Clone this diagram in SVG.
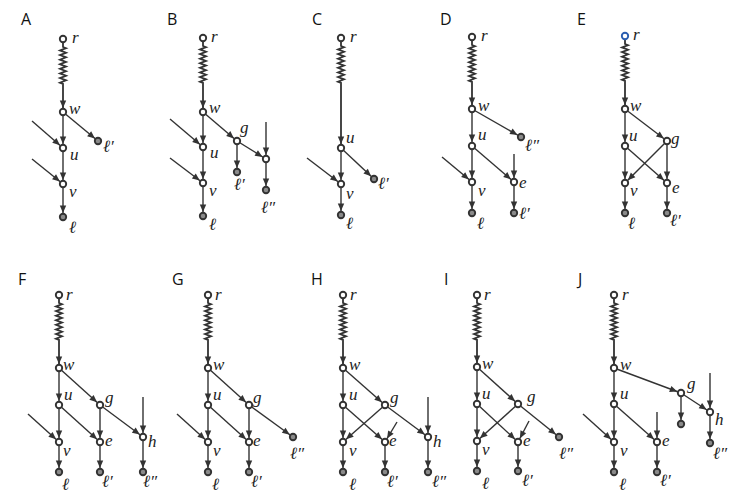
<svg xmlns="http://www.w3.org/2000/svg" width="747" height="504" viewBox="0 0 747 504">
<style>
.e{stroke:#333;stroke-width:1.4;fill:none;marker-end:url(#a)}
.z{stroke:#333;stroke-width:1.8;fill:none;marker-end:url(#a)}
.n circle{fill:#fff;stroke:#333;stroke-width:1.9}
.n.lf circle{fill:#8a8a8a}
.n.bl circle{stroke:#2a5db0}
.t{font-family:"Liberation Serif",serif;font-style:italic;font-size:17px;fill:#222}
.p{font-family:"Open Sans",sans-serif;font-size:16px;fill:#111}
</style>
<defs>
<marker id="a" markerUnits="userSpaceOnUse" viewBox="-12 -5 14 10" refX="0" refY="0" markerWidth="14" markerHeight="10" orient="auto" overflow="visible">
<path d="M-4,0 L-11.5,-3.2 L-11.5,3.2 Z" fill="#333"/>
</marker>
</defs>
<g id="panel-labels">
<text class="p" x="21" y="25">A</text>
<text class="p" x="167" y="25">B</text>
<text class="p" x="312" y="25">C</text>
<text class="p" x="440" y="25">D</text>
<text class="p" x="577" y="25">E</text>
<text class="p" x="18" y="285">F</text>
<text class="p" x="172" y="285">G</text>
<text class="p" x="311" y="285">H</text>
<text class="p" x="444" y="285">I</text>
<text class="p" x="578" y="285">J</text>
</g>
<g id="connectors">
<!-- A -->
<path class="z" d="M63,43 v4 l3,1.15 l-6,2.3 l6,2.3 l-6,2.3 l6,2.3 l-6,2.3 l6,2.3 l-6,2.3 l6,2.3 l-6,2.3 l6,2.3 l-6,2.3 l6,2.3 l-6,2.3 l6,2.3 l-6,2.3 l3,1.15 V112"/>
<line class="e" x1="63" y1="112" x2="63" y2="148"/>
<line class="e" x1="63" y1="148" x2="63" y2="184"/>
<line class="e" x1="63" y1="184" x2="63" y2="217"/>
<line class="e" x1="63" y1="112" x2="98" y2="141"/>
<line class="e" x1="32" y1="121" x2="63" y2="148"/>
<line class="e" x1="32" y1="159" x2="63" y2="184"/>
<!-- B -->
<path class="z" d="M203,42 v4 l3,1.15 l-6,2.3 l6,2.3 l-6,2.3 l6,2.3 l-6,2.3 l6,2.3 l-6,2.3 l6,2.3 l-6,2.3 l6,2.3 l-6,2.3 l6,2.3 l-6,2.3 l6,2.3 l-6,2.3 l3,1.15 V112"/>
<line class="e" x1="203" y1="112" x2="203" y2="147"/>
<line class="e" x1="203" y1="147" x2="203" y2="183"/>
<line class="e" x1="203" y1="183" x2="203" y2="216"/>
<line class="e" x1="203" y1="112" x2="237" y2="141"/>
<line class="e" x1="237" y1="141" x2="237" y2="172"/>
<line class="e" x1="237" y1="141" x2="266" y2="159"/>
<line class="e" x1="266" y1="159" x2="266" y2="190"/>
<line class="e" x1="266" y1="122" x2="266" y2="159"/>
<line class="e" x1="170" y1="119" x2="203" y2="147"/>
<line class="e" x1="170" y1="158" x2="203" y2="183"/>
<!-- C -->
<path class="z" d="M341,42 v4 l3,1.15 l-6,2.3 l6,2.3 l-6,2.3 l6,2.3 l-6,2.3 l6,2.3 l-6,2.3 l6,2.3 l-6,2.3 l6,2.3 l-6,2.3 l6,2.3 l-6,2.3 l6,2.3 l-6,2.3 l3,1.15 V148"/>
<line class="e" x1="341" y1="148" x2="341" y2="184"/>
<line class="e" x1="341" y1="184" x2="341" y2="215"/>
<line class="e" x1="341" y1="148" x2="374" y2="179"/>
<line class="e" x1="307" y1="158" x2="341" y2="184"/>
<!-- D -->
<path class="z" d="M472,41 v4 l3,1.15 l-6,2.3 l6,2.3 l-6,2.3 l6,2.3 l-6,2.3 l6,2.3 l-6,2.3 l6,2.3 l-6,2.3 l6,2.3 l-6,2.3 l6,2.3 l-6,2.3 l6,2.3 l-6,2.3 l3,1.15 V109"/>
<line class="e" x1="472" y1="109" x2="472" y2="146"/>
<line class="e" x1="472" y1="146" x2="472" y2="182"/>
<line class="e" x1="472" y1="182" x2="472" y2="213"/>
<line class="e" x1="472" y1="109" x2="521" y2="137"/>
<line class="e" x1="472" y1="146" x2="514" y2="182"/>
<line class="e" x1="514" y1="182" x2="514" y2="213"/>
<line class="e" x1="514" y1="154" x2="514" y2="182"/>
<line class="e" x1="442" y1="157" x2="472" y2="182"/>
<!-- E -->
<path class="z" d="M625,40 v4 l3,1.15 l-6,2.3 l6,2.3 l-6,2.3 l6,2.3 l-6,2.3 l6,2.3 l-6,2.3 l6,2.3 l-6,2.3 l6,2.3 l-6,2.3 l6,2.3 l-6,2.3 l6,2.3 l-6,2.3 l3,1.15 V109"/>
<line class="e" x1="625" y1="109" x2="625" y2="146"/>
<line class="e" x1="625" y1="146" x2="625" y2="183"/>
<line class="e" x1="625" y1="183" x2="625" y2="213"/>
<line class="e" x1="625" y1="109" x2="667" y2="141"/>
<line class="e" x1="625" y1="146" x2="667" y2="183"/>
<line class="e" x1="667" y1="141" x2="625" y2="183"/>
<line class="e" x1="667" y1="141" x2="667" y2="183"/>
<line class="e" x1="667" y1="183" x2="667" y2="213"/>
<!-- F -->
<path class="z" d="M59,299 v4 l3,1.15 l-6,2.3 l6,2.3 l-6,2.3 l6,2.3 l-6,2.3 l6,2.3 l-6,2.3 l6,2.3 l-6,2.3 l6,2.3 l-6,2.3 l6,2.3 l-6,2.3 l6,2.3 l-6,2.3 l3,1.15 V368"/>
<line class="e" x1="59" y1="368" x2="59" y2="405"/>
<line class="e" x1="59" y1="405" x2="59" y2="442"/>
<line class="e" x1="59" y1="442" x2="59" y2="472"/>
<line class="e" x1="59" y1="368" x2="100" y2="405"/>
<line class="e" x1="59" y1="405" x2="100" y2="442"/>
<line class="e" x1="100" y1="405" x2="100" y2="442"/>
<line class="e" x1="100" y1="405" x2="143" y2="437"/>
<line class="e" x1="100" y1="442" x2="100" y2="472"/>
<line class="e" x1="143" y1="437" x2="143" y2="472"/>
<line class="e" x1="143" y1="397" x2="143" y2="437"/>
<line class="e" x1="28" y1="414" x2="59" y2="442"/>
<!-- G -->
<path class="z" d="M208,299 v4 l3,1.15 l-6,2.3 l6,2.3 l-6,2.3 l6,2.3 l-6,2.3 l6,2.3 l-6,2.3 l6,2.3 l-6,2.3 l6,2.3 l-6,2.3 l6,2.3 l-6,2.3 l6,2.3 l-6,2.3 l3,1.15 V368"/>
<line class="e" x1="208" y1="368" x2="208" y2="405"/>
<line class="e" x1="208" y1="405" x2="208" y2="442"/>
<line class="e" x1="208" y1="442" x2="208" y2="472"/>
<line class="e" x1="208" y1="368" x2="249" y2="405"/>
<line class="e" x1="208" y1="405" x2="249" y2="442"/>
<line class="e" x1="249" y1="405" x2="249" y2="442"/>
<line class="e" x1="249" y1="405" x2="293" y2="437"/>
<line class="e" x1="249" y1="442" x2="249" y2="472"/>
<line class="e" x1="177" y1="414" x2="208" y2="442"/>
<!-- H -->
<path class="z" d="M343,299 v4 l3,1.15 l-6,2.3 l6,2.3 l-6,2.3 l6,2.3 l-6,2.3 l6,2.3 l-6,2.3 l6,2.3 l-6,2.3 l6,2.3 l-6,2.3 l6,2.3 l-6,2.3 l6,2.3 l-6,2.3 l3,1.15 V368"/>
<line class="e" x1="343" y1="368" x2="343" y2="405"/>
<line class="e" x1="343" y1="405" x2="343" y2="442"/>
<line class="e" x1="343" y1="442" x2="343" y2="472"/>
<line class="e" x1="343" y1="368" x2="385" y2="405"/>
<line class="e" x1="343" y1="405" x2="385" y2="442"/>
<line class="e" x1="385" y1="405" x2="343" y2="442"/>
<line class="e" x1="385" y1="405" x2="428" y2="437"/>
<line class="e" x1="385" y1="442" x2="385" y2="472"/>
<line class="e" x1="428" y1="437" x2="428" y2="472"/>
<line class="e" x1="428" y1="397" x2="428" y2="437"/>
<line class="e" x1="397" y1="422" x2="385" y2="442"/>
<!-- I -->
<path class="z" d="M477,299 v4 l3,1.15 l-6,2.3 l6,2.3 l-6,2.3 l6,2.3 l-6,2.3 l6,2.3 l-6,2.3 l6,2.3 l-6,2.3 l6,2.3 l-6,2.3 l6,2.3 l-6,2.3 l6,2.3 l-6,2.3 l3,1.15 V367"/>
<line class="e" x1="477" y1="367" x2="477" y2="404"/>
<line class="e" x1="477" y1="404" x2="477" y2="441"/>
<line class="e" x1="477" y1="441" x2="477" y2="471"/>
<line class="e" x1="477" y1="367" x2="518" y2="404"/>
<line class="e" x1="477" y1="404" x2="518" y2="442"/>
<line class="e" x1="518" y1="404" x2="477" y2="441"/>
<line class="e" x1="518" y1="404" x2="559" y2="437"/>
<line class="e" x1="518" y1="442" x2="518" y2="471"/>
<line class="e" x1="529" y1="421" x2="518" y2="442"/>
<!-- J -->
<path class="z" d="M614,299 v4 l3,1.15 l-6,2.3 l6,2.3 l-6,2.3 l6,2.3 l-6,2.3 l6,2.3 l-6,2.3 l6,2.3 l-6,2.3 l6,2.3 l-6,2.3 l6,2.3 l-6,2.3 l6,2.3 l-6,2.3 l3,1.15 V368"/>
<line class="e" x1="614" y1="368" x2="614" y2="404"/>
<line class="e" x1="614" y1="404" x2="614" y2="442"/>
<line class="e" x1="614" y1="442" x2="614" y2="472"/>
<line class="e" x1="614" y1="368" x2="681" y2="393"/>
<line class="e" x1="614" y1="404" x2="657" y2="442"/>
<line class="e" x1="657" y1="442" x2="657" y2="472"/>
<line class="e" x1="657" y1="412" x2="657" y2="442"/>
<line class="e" x1="681" y1="393" x2="681" y2="424"/>
<line class="e" x1="681" y1="393" x2="710" y2="412"/>
<line class="e" x1="710" y1="412" x2="710" y2="443"/>
<line class="e" x1="710" y1="373" x2="710" y2="412"/>
<line class="e" x1="583" y1="414" x2="614" y2="442"/>
</g>
<!-- Panel A nodes -->
<g id="A-r" class="n"><circle cx="63" cy="39" r="3.2"/><text class="t" x="72" y="43">r</text></g>
<g id="A-w" class="n"><circle cx="63" cy="112" r="3.2"/><text class="t" x="69" y="114">w</text></g>
<g id="A-u" class="n"><circle cx="63" cy="148" r="3.2"/><text class="t" x="70" y="160">u</text></g>
<g id="A-v" class="n"><circle cx="63" cy="184" r="3.2"/><text class="t" x="69" y="197">v</text></g>
<g id="A-l" class="n lf"><circle cx="63" cy="217" r="3.2"/><text class="t" x="69" y="233">ℓ</text></g>
<g id="A-l1" class="n lf"><circle cx="98" cy="141" r="3.2"/><text class="t" x="103" y="152">ℓ′</text></g>
<!-- Panel B nodes -->
<g id="B-r" class="n"><circle cx="203" cy="38" r="3.2"/><text class="t" x="211" y="42">r</text></g>
<g id="B-w" class="n"><circle cx="203" cy="112" r="3.2"/><text class="t" x="209" y="113">w</text></g>
<g id="B-u" class="n"><circle cx="203" cy="147" r="3.2"/><text class="t" x="210" y="158">u</text></g>
<g id="B-v" class="n"><circle cx="203" cy="183" r="3.2"/><text class="t" x="209" y="196">v</text></g>
<g id="B-l" class="n lf"><circle cx="203" cy="216" r="3.2"/><text class="t" x="209" y="230">ℓ</text></g>
<g id="B-g" class="n"><circle cx="237" cy="141" r="3.2"/><text class="t" x="240" y="133">g</text></g>
<g id="B-l1" class="n lf"><circle cx="237" cy="172" r="3.2"/><text class="t" x="234" y="190">ℓ′</text></g>
<g id="B-x" class="n"><circle cx="266" cy="159" r="3.2"/></g>
<g id="B-l2" class="n lf"><circle cx="266" cy="190" r="3.2"/><text class="t" x="261" y="213">ℓ″</text></g>
<!-- Panel C nodes -->
<g id="C-r" class="n"><circle cx="341" cy="38" r="3.2"/><text class="t" x="350" y="42">r</text></g>
<g id="C-u" class="n"><circle cx="341" cy="148" r="3.2"/><text class="t" x="346" y="143">u</text></g>
<g id="C-v" class="n"><circle cx="341" cy="184" r="3.2"/><text class="t" x="346" y="199">v</text></g>
<g id="C-l" class="n lf"><circle cx="341" cy="215" r="3.2"/><text class="t" x="346" y="229">ℓ</text></g>
<g id="C-l1" class="n lf"><circle cx="374" cy="179" r="3.2"/><text class="t" x="378" y="189">ℓ′</text></g>
<!-- Panel D nodes -->
<g id="D-r" class="n"><circle cx="472" cy="37" r="3.2"/><text class="t" x="481" y="41">r</text></g>
<g id="D-w" class="n"><circle cx="472" cy="109" r="3.2"/><text class="t" x="478" y="111">w</text></g>
<g id="D-u" class="n"><circle cx="472" cy="146" r="3.2"/><text class="t" x="478" y="140">u</text></g>
<g id="D-v" class="n"><circle cx="472" cy="182" r="3.2"/><text class="t" x="478" y="196">v</text></g>
<g id="D-l" class="n lf"><circle cx="472" cy="213" r="3.2"/><text class="t" x="477" y="229">ℓ</text></g>
<g id="D-l2" class="n lf"><circle cx="521" cy="137" r="3.2"/><text class="t" x="525" y="151">ℓ″</text></g>
<g id="D-e" class="n"><circle cx="514" cy="182" r="3.2"/><text class="t" x="519" y="188">e</text></g>
<g id="D-l1" class="n lf"><circle cx="514" cy="213" r="3.2"/><text class="t" x="519" y="219">ℓ′</text></g>
<!-- Panel E nodes -->
<g id="E-r" class="n bl"><circle cx="625" cy="36" r="3.2"/><text class="t" x="633" y="40">r</text></g>
<g id="E-w" class="n"><circle cx="625" cy="109" r="3.2"/><text class="t" x="630" y="111">w</text></g>
<g id="E-u" class="n"><circle cx="625" cy="146" r="3.2"/><text class="t" x="629" y="141">u</text></g>
<g id="E-v" class="n"><circle cx="625" cy="183" r="3.2"/><text class="t" x="630" y="196">v</text></g>
<g id="E-l" class="n lf"><circle cx="625" cy="213" r="3.2"/><text class="t" x="628" y="229">ℓ</text></g>
<g id="E-g" class="n"><circle cx="667" cy="141" r="3.2"/><text class="t" x="671" y="144">g</text></g>
<g id="E-e" class="n"><circle cx="667" cy="183" r="3.2"/><text class="t" x="672" y="193">e</text></g>
<g id="E-l1" class="n lf"><circle cx="667" cy="213" r="3.2"/><text class="t" x="670" y="226">ℓ′</text></g>
<!-- Panel F nodes -->
<g id="F-r" class="n"><circle cx="59" cy="295" r="3.2"/><text class="t" x="66" y="300">r</text></g>
<g id="F-w" class="n"><circle cx="59" cy="368" r="3.2"/><text class="t" x="63" y="370">w</text></g>
<g id="F-u" class="n"><circle cx="59" cy="405" r="3.2"/><text class="t" x="64" y="400">u</text></g>
<g id="F-v" class="n"><circle cx="59" cy="442" r="3.2"/><text class="t" x="63" y="456">v</text></g>
<g id="F-l" class="n lf"><circle cx="59" cy="472" r="3.2"/><text class="t" x="62" y="490">ℓ</text></g>
<g id="F-g" class="n"><circle cx="100" cy="405" r="3.2"/><text class="t" x="105" y="403">g</text></g>
<g id="F-e" class="n"><circle cx="100" cy="442" r="3.2"/><text class="t" x="105" y="446">e</text></g>
<g id="F-l1" class="n lf"><circle cx="100" cy="472" r="3.2"/><text class="t" x="102" y="487">ℓ′</text></g>
<g id="F-h" class="n"><circle cx="143" cy="437" r="3.2"/><text class="t" x="148" y="447">h</text></g>
<g id="F-l2" class="n lf"><circle cx="143" cy="472" r="3.2"/><text class="t" x="143" y="487">ℓ″</text></g>
<!-- Panel G nodes -->
<g id="G-r" class="n"><circle cx="208" cy="295" r="3.2"/><text class="t" x="215" y="300">r</text></g>
<g id="G-w" class="n"><circle cx="208" cy="368" r="3.2"/><text class="t" x="213" y="370">w</text></g>
<g id="G-u" class="n"><circle cx="208" cy="405" r="3.2"/><text class="t" x="213" y="400">u</text></g>
<g id="G-v" class="n"><circle cx="208" cy="442" r="3.2"/><text class="t" x="213" y="456">v</text></g>
<g id="G-l" class="n lf"><circle cx="208" cy="472" r="3.2"/><text class="t" x="212" y="490">ℓ</text></g>
<g id="G-g" class="n"><circle cx="249" cy="405" r="3.2"/><text class="t" x="253" y="403">g</text></g>
<g id="G-e" class="n"><circle cx="249" cy="442" r="3.2"/><text class="t" x="253" y="446">e</text></g>
<g id="G-l1" class="n lf"><circle cx="249" cy="472" r="3.2"/><text class="t" x="251" y="487">ℓ′</text></g>
<g id="G-l2" class="n lf"><circle cx="293" cy="437" r="3.2"/><text class="t" x="290" y="459">ℓ″</text></g>
<!-- Panel H nodes -->
<g id="H-r" class="n"><circle cx="343" cy="295" r="3.2"/><text class="t" x="350" y="300">r</text></g>
<g id="H-w" class="n"><circle cx="343" cy="368" r="3.2"/><text class="t" x="349" y="370">w</text></g>
<g id="H-u" class="n"><circle cx="343" cy="405" r="3.2"/><text class="t" x="349" y="400">u</text></g>
<g id="H-v" class="n"><circle cx="343" cy="442" r="3.2"/><text class="t" x="349" y="456">v</text></g>
<g id="H-l" class="n lf"><circle cx="343" cy="472" r="3.2"/><text class="t" x="349" y="490">ℓ</text></g>
<g id="H-g" class="n"><circle cx="385" cy="405" r="3.2"/><text class="t" x="390" y="403">g</text></g>
<g id="H-e" class="n"><circle cx="385" cy="442" r="3.2"/><text class="t" x="389" y="446">e</text></g>
<g id="H-l1" class="n lf"><circle cx="385" cy="472" r="3.2"/><text class="t" x="387" y="487">ℓ′</text></g>
<g id="H-h" class="n"><circle cx="428" cy="437" r="3.2"/><text class="t" x="433" y="447">h</text></g>
<g id="H-l2" class="n lf"><circle cx="428" cy="472" r="3.2"/><text class="t" x="432" y="487">ℓ″</text></g>
<!-- Panel I nodes -->
<g id="I-r" class="n"><circle cx="477" cy="295" r="3.2"/><text class="t" x="484" y="300">r</text></g>
<g id="I-w" class="n"><circle cx="477" cy="367" r="3.2"/><text class="t" x="482" y="369">w</text></g>
<g id="I-u" class="n"><circle cx="477" cy="404" r="3.2"/><text class="t" x="482" y="399">u</text></g>
<g id="I-v" class="n"><circle cx="477" cy="441" r="3.2"/><text class="t" x="482" y="455">v</text></g>
<g id="I-l" class="n lf"><circle cx="477" cy="471" r="3.2"/><text class="t" x="482" y="489">ℓ</text></g>
<g id="I-g" class="n"><circle cx="518" cy="404" r="3.2"/><text class="t" x="527" y="402">g</text></g>
<g id="I-e" class="n"><circle cx="518" cy="442" r="3.2"/><text class="t" x="523" y="446">e</text></g>
<g id="I-l1" class="n lf"><circle cx="518" cy="471" r="3.2"/><text class="t" x="522" y="486">ℓ′</text></g>
<g id="I-l2" class="n lf"><circle cx="559" cy="437" r="3.2"/><text class="t" x="559" y="459">ℓ″</text></g>
<!-- Panel J nodes -->
<g id="J-r" class="n"><circle cx="614" cy="295" r="3.2"/><text class="t" x="622" y="300">r</text></g>
<g id="J-w" class="n"><circle cx="614" cy="368" r="3.2"/><text class="t" x="620" y="370">w</text></g>
<g id="J-u" class="n"><circle cx="614" cy="404" r="3.2"/><text class="t" x="620" y="399">u</text></g>
<g id="J-v" class="n"><circle cx="614" cy="442" r="3.2"/><text class="t" x="620" y="456">v</text></g>
<g id="J-l" class="n lf"><circle cx="614" cy="472" r="3.2"/><text class="t" x="619" y="490">ℓ</text></g>
<g id="J-e" class="n"><circle cx="657" cy="442" r="3.2"/><text class="t" x="662" y="446">e</text></g>
<g id="J-l1" class="n lf"><circle cx="657" cy="472" r="3.2"/><text class="t" x="660" y="486">ℓ′</text></g>
<g id="J-g" class="n"><circle cx="681" cy="393" r="3.2"/><text class="t" x="687" y="389">g</text></g>
<g id="J-gl" class="n lf"><circle cx="681" cy="424" r="3.2"/></g>
<g id="J-h" class="n"><circle cx="710" cy="412" r="3.2"/><text class="t" x="715" y="425">h</text></g>
<g id="J-l2" class="n lf"><circle cx="710" cy="443" r="3.2"/><text class="t" x="713" y="459">ℓ″</text></g>
</svg>
